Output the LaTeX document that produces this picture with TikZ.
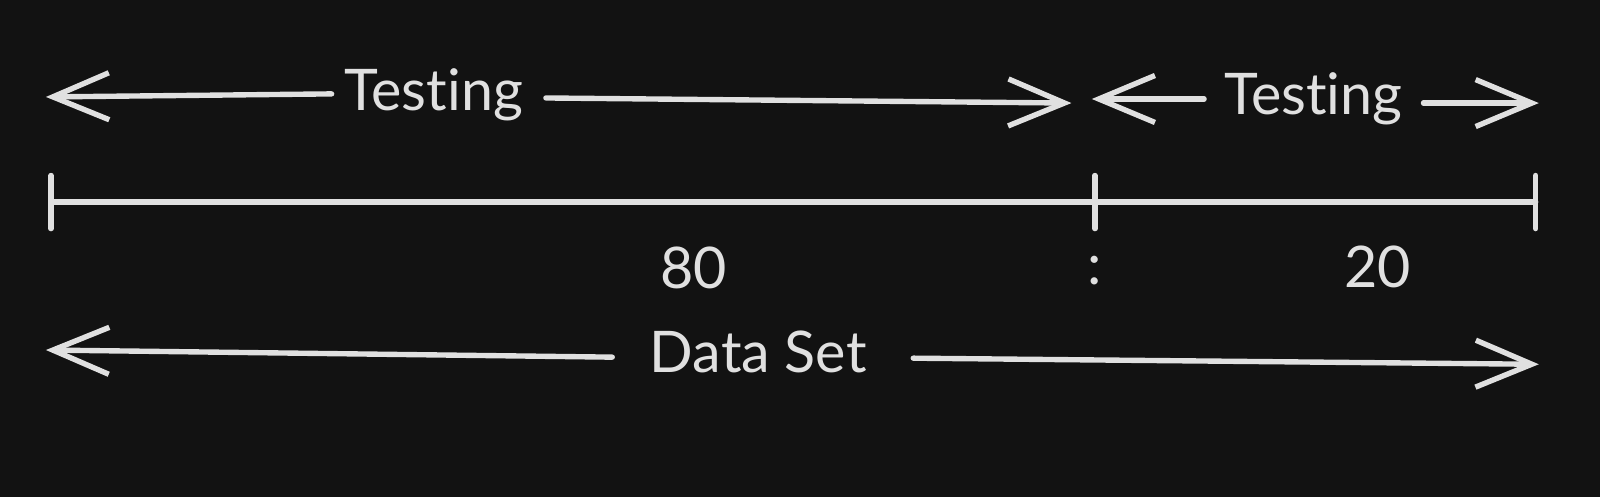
\documentclass[tikz,border=0pt]{standalone}
\usepackage{fontspec}
\setmainfont[Ligatures={NoCommon}]{Lato}
\usetikzlibrary{arrows.meta}
\definecolor{bg}{HTML}{121212}
\definecolor{ink}{HTML}{E0E0E0}
\begin{document}
\begin{tikzpicture}[x=0.01cm,y=-0.01cm,
  ln/.style={draw=ink,line width=1.5pt,line cap=round},
  arr/.style={ln,-{Straight Barb[length=5.5mm,width=4.6mm,line width=1.5pt]}},
  lbl/.style={text=ink,font=\fontsize{16}{19}\selectfont,inner sep=0pt}]
\fill[bg] (0,0) rectangle (1568,487);
% top row
\node[lbl] (t1) at (425,93) {Testing};
\coordinate (t1l) at (45,95);
\coordinate (t1r) at (1050,101);
\draw[arr] (325,92) -- (t1l);
\draw[arr] (535,96) -- (t1r);
\node[lbl] (t2) at (1287,97) {Testing};
\coordinate (t2l) at (1070,97);
\coordinate (t2r) at (1508,101);
\draw[arr] (1180,97) -- (t2l);
\draw[arr] (1395,101) -- (t2r);
% scale
\coordinate (s0) at (50,198);
\coordinate (s1) at (1073,198);
\coordinate (s2) at (1505,198);
\draw[ln] (s0) -- (s2);
\foreach \c in {s0,s1,s2} \draw[ln] ([yshift=0.26cm]\c) -- ([yshift=-0.26cm]\c);
\node[lbl] (n80) at (680,263) {80};
\node[lbl] (col) at (1073,265) {:};
\node[lbl] (n20) at (1350,262) {20};
% bottom
\node[lbl] (ds) at (743,345) {Data Set};
\coordinate (dl) at (45,343);
\coordinate (dr) at (1508,357);
\draw[arr] (600,350) -- (dl);
\draw[arr] (895,351) -- (dr);
\pgfresetboundingbox
\useasboundingbox (0,0) rectangle (1568,487);
\end{tikzpicture}
\end{document}
